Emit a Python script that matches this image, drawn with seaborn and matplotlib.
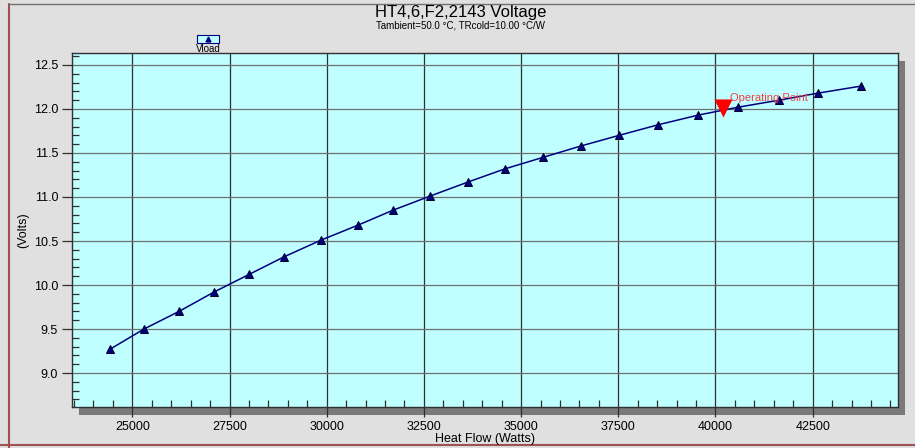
import numpy as np
import pandas as pd
import matplotlib
matplotlib.use("Agg")
import matplotlib.pyplot as plt
from matplotlib.lines import Line2D
from matplotlib.patches import Rectangle
from matplotlib.ticker import MultipleLocator
import seaborn as sns

# values
heat_flow = [24426, 25301, 26201, 27101, 28002, 28902, 29854, 30805, 31705, 32657,
             33634, 34586, 35563, 36541, 37518, 38521, 39550, 40579, 41633, 42636, 43742]
vload = [9.27, 9.50, 9.70, 9.92, 10.12, 10.32, 10.51, 10.68, 10.85, 11.01,
         11.17, 11.32, 11.45, 11.58, 11.70, 11.82, 11.93, 12.02, 12.10, 12.18, 12.26]
op_x = [40200]
op_y = [12.01]

title = "HT4,6,F2,2143 Voltage"
subtitle = "Tambient=50.0 \u00b0C, TRcold=10.00 \u00b0C/W"


def main():
    sns.set_style("white")
    plt.rcParams["font.family"] = ["Liberation Sans", "DejaVu Sans"]
    plt.rcParams["text.color"] = "black"
    plt.rcParams["axes.labelcolor"] = "black"
    plt.rcParams["xtick.color"] = "black"
    plt.rcParams["ytick.color"] = "black"

    df = pd.DataFrame({"Heat Flow": heat_flow, "Vload": vload})

    fig = plt.figure(figsize=(9.15, 4.48), dpi=100, facecolor="#e0e0e0")
    W, H = 915, 448
    l, r, t, b = 72, 898, 53, 407
    ax = fig.add_axes([l / W, 1 - b / H, (r - l) / W, (b - t) / H])
    ax.set_zorder(2)
    ax.set_facecolor("#c0ffff")

    # drop shadow behind the plot area
    fig.patches.append(Rectangle(((l + 7) / W, 1 - (b + 8) / H), (r - l) / W, (b - t) / H,
                                 transform=fig.transFigure, facecolor="#7a7a7a",
                                 edgecolor="none", zorder=-1))

    sns.lineplot(data=df, x="Heat Flow", y="Vload", ax=ax, color="#000080", lw=1.1,
                 marker="^", markersize=5.5, markeredgecolor="#000030",
                 markerfacecolor="#000080", legend=False, zorder=3)
    ax.scatter(op_x, op_y, marker="v", s=170, color="#ff0000", zorder=4, linewidths=0)
    ax.text(op_x[0] + 180, op_y[0] + 0.06, "Operating Point", color="#f04040",
            fontsize=8, ha="left", va="bottom", zorder=5)

    ax.set_xlim(23449, 44694)
    ax.set_ylim(8.614, 12.636)
    ax.xaxis.set_major_locator(MultipleLocator(2500))
    ax.xaxis.set_minor_locator(MultipleLocator(500))
    ax.yaxis.set_major_locator(MultipleLocator(0.5))
    ax.yaxis.set_minor_locator(MultipleLocator(0.1))
    ax.tick_params(axis="both", which="major", direction="out", length=7, width=0.9,
                   color="#303030", labelsize=9, pad=3)
    ax.tick_params(axis="both", which="minor", direction="in", length=5, width=0.9,
                   color="#303030")
    ax.tick_params(axis="x", which="both", bottom=True)
    ax.tick_params(axis="y", which="both", left=True)
    ax.grid(True, axis="x", which="major", color="#303030", lw=0.9)
    ax.grid(True, axis="y", which="major", color="#707070", lw=0.9)
    ax.set_axisbelow(True)
    for s in ax.spines.values():
        s.set_color("#303030")
        s.set_linewidth(1.0)

    ax.set_xlabel("Heat Flow (Watts)", fontsize=9, labelpad=0)
    ax.set_ylabel("(Volts)", fontsize=9, labelpad=3)

    fig.text(0.503, 1 - 12 / H, title, ha="center", va="center", fontsize=12)
    fig.text(0.503, 1 - 26 / H, subtitle, ha="center", va="center", fontsize=7)

    # legend box
    fig.patches.append(Rectangle((197 / W, 1 - 43 / H), 22 / W, 8 / H,
                                 transform=fig.transFigure, facecolor="#c0ffff",
                                 edgecolor="#000080", lw=0.8))
    fig.add_artist(Line2D([208 / W], [1 - 39 / H], marker="^", markersize=3.5,
                          color="#000080", transform=fig.transFigure))
    fig.text(208 / W, 1 - 49.5 / H, "Vload", ha="center", va="center", fontsize=7)

    # window frame edges
    fig.add_artist(Line2D([9 / W, 9 / W], [0, 1 - 4 / H], color="#a05050", lw=1.5,
                          transform=fig.transFigure))
    fig.add_artist(Line2D([9 / W, 1], [1 - 4 / H, 1 - 4 / H], color="#707070", lw=1.0,
                          transform=fig.transFigure))
    fig.add_artist(Line2D([0, 1], [1 - 445 / H, 1 - 445 / H], color="#a05050", lw=1.5,
                          transform=fig.transFigure))

    fig.savefig("out.png", dpi=100, facecolor=fig.get_facecolor())


if __name__ == "__main__":
    main()
